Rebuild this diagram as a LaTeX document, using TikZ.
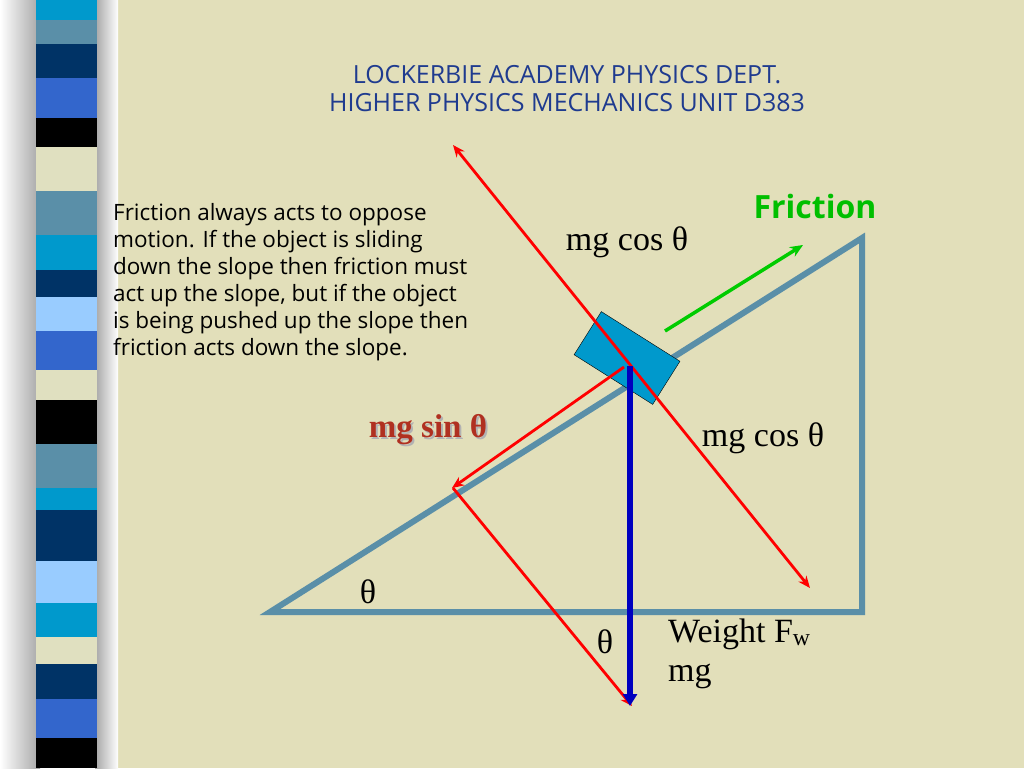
\documentclass[tikz,border=0pt]{standalone}
\usepackage{fontspec}
\setmainfont{Liberation Serif}
\newfontfamily\sansf{Open Sans}
\usetikzlibrary{arrows.meta}
\definecolor{bg}{HTML}{E2DFBA}
\definecolor{steel}{HTML}{5A8FA8}
\definecolor{cyanb}{HTML}{0099CC}
\definecolor{navy}{HTML}{003366}
\definecolor{royal}{HTML}{3366CC}
\definecolor{lightb}{HTML}{99CCFF}
\definecolor{cream}{HTML}{E0E0C0}
\definecolor{titleb}{HTML}{1F3B8F}
\definecolor{brick}{HTML}{B03020}
\tikzset{
 redarrow/.style={red,line width=2.8pt,-{Stealth[length=12pt,width=10pt]}},
 lbl/.style={font=\fontsize{34}{36}\selectfont,inner sep=0pt}
}
\begin{document}
\begin{tikzpicture}[x=1pt,y=-1pt]
\useasboundingbox (0,0) rectangle (1024,768);
\fill[bg] (0,0) rectangle (1024,768);
\shade[left color=white,right color=gray!70] (0,0) rectangle (40,768);
\shade[left color=gray!70,right color=white] (95,0) rectangle (118,768);
\def\bands{0/20/cyanb,20/44/steel,44/78/navy,78/118/royal,118/147/black,147/191/cream,191/235/steel,235/270/cyanb,270/297/navy,297/331/lightb,331/370/royal,370/400/cream,400/444/black,444/488/steel,488/510/cyanb,510/561/navy,561/603/lightb,603/637/cyanb,637/664/cream,664/699/navy,699/738/royal,738/768/black}
\foreach \a/\b/\c in \bands {\fill[\c] (36,\a) rectangle (97,\b);}
\node[font=\sansf\fontsize{25}{28}\selectfont,text=titleb,align=center] (title) at (567,89) {LOCKERBIE ACADEMY PHYSICS DEPT.\\HIGHER PHYSICS MECHANICS UNIT D383};
\node[font=\sansf\fontsize{22.5}{27}\selectfont,align=left,anchor=north west,inner sep=0pt] (para) at (113,203) {Friction always acts to oppose\\motion. If the object is sliding\\down the slope then friction must\\act up the slope, but if the object\\is being pushed up the slope then\\friction acts down the slope.};
\coordinate (A) at (270,612); \coordinate (B) at (862,612); \coordinate (C) at (862,238);
\draw[steel,line width=6pt,line join=miter] (A) -- (B) -- (C) -- cycle;
\node[draw=black,fill=cyanb,minimum width=93pt,minimum height=51pt,rotate=-32.3,inner sep=0pt] (block) at (627,358) {};
\coordinate (n1) at (453,145); \coordinate (n2) at (810,588);
\draw[red,line width=2.8pt,{Stealth[length=12pt,width=10pt]}-{Stealth[length=12pt,width=10pt]}] (n1) -- (n2);
\coordinate (s1) at (624,367); \coordinate (s2) at (452,488);
\draw[redarrow] (s1) -- (s2);
\coordinate (p1) at (453,488); \coordinate (p2) at (632,706);
\draw[redarrow] (p1) -- (p2);
\coordinate (w1) at (630,366); \coordinate (w2) at (630,706);
\draw[blue!75!black,line width=6pt,-{Triangle[length=12pt,width=14pt]}] (w1) -- (w2);
\coordinate (f1) at (665,331); \coordinate (f2) at (803,245);
\draw[green!80!black,line width=3.5pt,-{Stealth[length=13pt,width=11pt]}] (f1) -- (f2);
\node[font=\sansf\fontsize{32}{34}\selectfont\bfseries,text=green!75!black] (fr) at (815,206) {Friction};
\node[lbl] (mc1) at (627,242) {mg cos θ};
\node[lbl,font=\fontsize{33}{36}\selectfont\bfseries,text=gray!60] (msh) at (430,432) {mg sin θ};
\node[lbl,font=\fontsize{33}{36}\selectfont\bfseries,text=brick] (ms) at (428,430) {mg sin θ};
\node[lbl] (mc2) at (763,438) {mg cos θ};
\node[lbl] (t1) at (368,592) {θ};
\node[lbl] (t2) at (605,642) {θ};
\node[lbl,anchor=west] (wt) at (668,634) {Weight F\textsubscript{w}};
\node[lbl,anchor=west] (mg) at (668,676) {mg};
\end{tikzpicture}
\end{document}
